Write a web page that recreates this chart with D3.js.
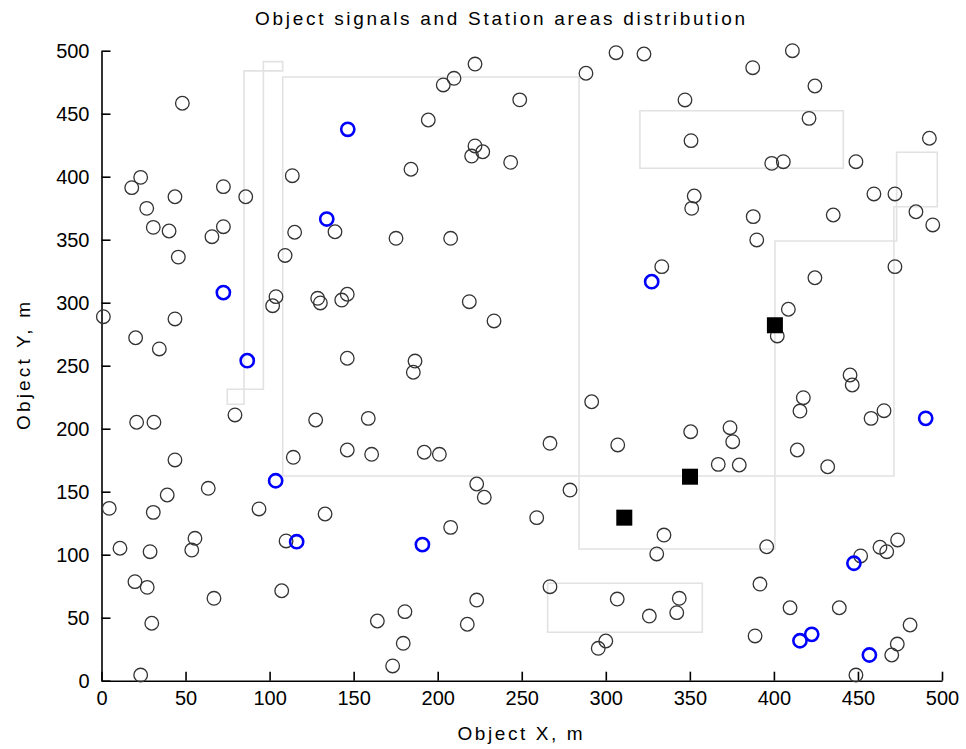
<!DOCTYPE html>
<html>
<head>
<meta charset="utf-8">
<script src="https://cdn.jsdelivr.net/npm/d3@7"></script>
<style>
  html, body { margin: 0; padding: 0; background: #fff; }
  svg { display: block; }
  text { font-family: "Liberation Sans", Arial, sans-serif; fill: #000; }
</style>
</head>
<body>
<svg id="chart" width="966" height="749"></svg>
<script>
// Axis ticks
const xTicks = [0, 50, 100, 150, 200, 250, 300, 350, 400, 450, 500];
const yTicks = [0, 50, 100, 150, 200, 250, 300, 350, 400, 450, 500];

// Object signals (x, y in metres)
const objectPoints = [
  [48.1,458.3],[23.3,399.5],[18.0,391.3],[43.7,384.1],[72.5,392.1],[26.9,374.9],[85.8,384.1],
  [113.5,400.8],[30.8,359.8],[40.2,356.9],[72.5,360.3],[65.7,352.4],[114.9,355.9],[45.7,336.2],
  [109.2,337.5],[222.2,489.4],[203.3,472.8],[209.7,478.1],[194.4,445.0],[248.8,461.0],[222.2,424.4],
  [226.8,419.8],[220.2,416.4],[184.1,405.9],[243.4,411.4],[138.9,356.3],[175.2,351.1],[207.7,351.1],
  [306.1,498.4],[322.7,497.4],[288.2,482.1],[347.1,460.9],[350.7,428.6],[352.6,384.7],[351.1,374.9],
  [411.0,500.0],[387.4,486.5],[424.4,472.0],[420.9,446.3],[398.7,410.6],[405.6,411.9],[448.8,411.9],
  [492.5,430.5],[459.5,386.3],[472.0,386.3],[484.5,372.2],[494.5,361.7],[387.7,368.3],[435.3,369.6],
  [389.8,349.8],[103.8,304.8],[101.8,297.6],[1.1,288.9],[43.7,287.1],[20.3,272.2],[34.4,263.3],
  [79.4,210.9],[20.9,205.1],[31.2,205.1],[43.7,175.2],[114.1,177.3],[128.6,303.5],[130.2,299.8],
  [146.2,306.7],[142.9,302.1],[218.8,300.8],[233.5,285.5],[146.2,255.9],[186.5,253.7],[185.5,244.8],
  [127.4,206.9],[158.7,208.2],[146.2,183.1],[160.7,179.7],[192.0,181.3],[201.0,179.7],[333.3,328.6],
  [291.6,221.4],[266.8,188.4],[307.1,187.1],[350.5,197.6],[472.0,328.6],[424.4,319.8],[408.6,294.8],
  [402.0,273.6],[445.3,242.6],[446.6,234.7],[417.5,224.6],[415.5,214.0],[465.5,214.3],[457.8,208.2],
  [373.9,200.8],[375.5,189.7],[366.9,171.7],[379.4,171.2],[413.9,183.1],[432.0,169.8],[4.6,136.8],
  [30.8,133.6],[39.1,147.4],[63.5,152.7],[93.7,136.3],[11.0,105.1],[28.9,102.4],[55.6,113.0],
  [53.7,103.7],[109.8,110.9],[19.9,78.6],[27.2,74.1],[66.9,65.4],[107.2,71.4],[29.9,45.6],
  [23.3,4.5],[133.0,132.3],[207.7,121.7],[223.2,156.1],[227.7,145.6],[223.2,64.0],[217.6,44.8],
  [180.5,54.8],[164.1,47.4],[179.5,29.7],[173.2,11.7],[278.7,151.3],[258.9,129.4],[334.6,115.6],
  [330.3,100.6],[266.8,74.6],[306.8,64.8],[343.7,65.4],[342.2,54.0],[325.9,51.3],[300.0,31.5],
  [295.5,25.7],[395.7,106.3],[391.7,76.7],[409.6,57.9],[438.9,57.9],[388.8,35.5],[451.6,99.0],
  [463.1,105.9],[467.1,102.4],[473.6,111.7],[481.0,44.2],[473.4,29.1],[470.1,20.4],[448.8,4.5]
];

// Signals received by a station (highlighted)
const receivedPoints = [
  [146.5,437.6],[134.0,366.4],[72.5,308.0],[86.7,254.0],[103.6,158.7],[116.1,110.3],[190.9,108.0],
  [327.3,316.7],[490.3,208.2],[447.6,93.2],[415.5,31.7],[422.5,36.8],[456.8,20.4]
];

// Station positions
const stationPoints = [[400.6,282.1],[311.0,129.4],[350.1,161.9]];

// Station area outlines (polygon vertices)
const areaOutlines = [
  [[84.8,219.4],[84.8,484.0],[107.8,484.0],[107.8,491.3],[96.3,491.3],[96.3,231.3],[74.8,231.3],[74.8,219.4]],
  [[471.4,162.5],[107.8,162.5],[107.8,479.1],[284.1,479.1],[284.1,104.5],[400.6,104.5],[400.6,349.0],
   [473.0,349.0],[473.0,419.4],[497.2,419.4],[497.2,376.2],[471.4,376.2]],
  [[320.3,406.7],[441.3,406.7],[441.3,452.4],[320.3,452.4]],
  [[265.4,38.4],[357.4,38.4],[357.4,77.3],[265.4,77.3]]
];

const svg = d3.select("#chart");
const x = d3.scaleLinear().domain([0, 500]).range([101.5, 942]);
const y = d3.scaleLinear().domain([0, 500]).range([680.7, 50.7]);

// Station areas
const line = d3.line().x(d => x(d[0])).y(d => y(d[1]));
svg.append("g")
  .selectAll("path")
  .data(areaOutlines)
  .join("path")
  .attr("d", d => line(d) + "Z")
  .attr("fill", "none")
  .attr("stroke", "#e2e2e2")
  .attr("stroke-width", 1.6);

// Axes
const xAxis = svg.append("g")
  .attr("transform", `translate(0,${y(0)})`)
  .call(d3.axisBottom(x).tickValues(xTicks).tickSizeInner(-9).tickSizeOuter(0).tickPadding(10).tickFormat(d3.format("d")));
const yAxis = svg.append("g")
  .attr("transform", `translate(${x(0)},0)`)
  .call(d3.axisLeft(y).tickValues(yTicks).tickSizeInner(-9).tickSizeOuter(0).tickPadding(12).tickFormat(d3.format("d")));

[xAxis, yAxis].forEach(g => {
  g.select(".domain").attr("stroke", "#000").attr("stroke-width", 1.6);
  g.selectAll(".tick line").attr("stroke", "#000").attr("stroke-width", 1.6);
  g.selectAll(".tick text").attr("font-size", 20).attr("font-family", "Liberation Sans, Arial, sans-serif").attr("fill", "#000");
});

// Object signals
svg.append("g")
  .selectAll("circle")
  .data(objectPoints)
  .join("circle")
  .attr("cx", d => x(d[0]))
  .attr("cy", d => y(d[1]))
  .attr("r", 6.8)
  .attr("fill", "none")
  .attr("stroke", "#333")
  .attr("stroke-width", 1.3);

// Received signals
svg.append("g")
  .selectAll("circle")
  .data(receivedPoints)
  .join("circle")
  .attr("cx", d => x(d[0]))
  .attr("cy", d => y(d[1]))
  .attr("r", 6.6)
  .attr("fill", "none")
  .attr("stroke", "#0000ff")
  .attr("stroke-width", 2.6);

// Stations
svg.append("g")
  .selectAll("rect")
  .data(stationPoints)
  .join("rect")
  .attr("x", d => x(d[0]) - 8)
  .attr("y", d => y(d[1]) - 8)
  .attr("width", 16)
  .attr("height", 16)
  .attr("fill", "#000");

// Title and axis labels
const labelFont = "DejaVu Sans, Verdana, sans-serif";
svg.append("text")
  .attr("x", 500).attr("y", 25)
  .attr("text-anchor", "middle")
  .attr("font-family", labelFont)
  .attr("font-size", 19)
  .attr("textLength", 490)
  .attr("lengthAdjust", "spacing")
  .text("Object signals and Station areas distribution");

svg.append("text")
  .attr("x", 520).attr("y", 740)
  .attr("text-anchor", "middle")
  .attr("font-family", labelFont)
  .attr("font-size", 19)
  .attr("textLength", 125)
  .attr("lengthAdjust", "spacing")
  .text("Object X, m");

svg.append("text")
  .attr("transform", "translate(30,366) rotate(-90)")
  .attr("text-anchor", "middle")
  .attr("font-family", labelFont)
  .attr("font-size", 19)
  .attr("textLength", 128)
  .attr("lengthAdjust", "spacing")
  .text("Object Y, m");
</script>
</body>
</html>
